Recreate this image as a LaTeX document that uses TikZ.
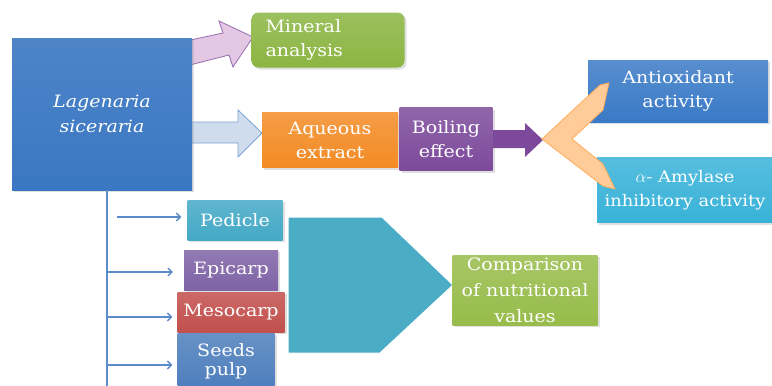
\documentclass[tikz,border=0pt]{standalone}
\usepackage{fontspec}
\setmainfont[FakeStretch=1.12]{DejaVu Serif}
\usetikzlibrary{arrows.meta,shadows}

\definecolor{lagblue}{HTML}{3A77C2}
\definecolor{minergreen}{HTML}{8BB542}
\definecolor{aquorange}{HTML}{F38B25}
\definecolor{boilpurple}{HTML}{7D4A9B}
\definecolor{antiblue}{HTML}{3A7AC6}
\definecolor{amycyan}{HTML}{38B2D8}
\definecolor{pedcyan}{HTML}{44A9C6}
\definecolor{epipurple}{HTML}{7F63A6}
\definecolor{mesored}{HTML}{C24F4C}
\definecolor{seedblue}{HTML}{4D7EBC}
\definecolor{pentcyan}{HTML}{4BACC6}
\definecolor{compgreen}{HTML}{97BC4A}
\definecolor{linkblue}{HTML}{5B8BC8}

\begin{document}
\begin{tikzpicture}[x=1pt,y=-1pt]
    % 定义样式
    \tikzstyle{box}=[rectangle, inner sep=2pt, align=center, text=white,
        font=\fontsize{17}{24}\selectfont,
        drop shadow={opacity=0.25, shadow xshift=2pt, shadow yshift=-2pt}]
    \tikzstyle{branch}=[draw=linkblue, line width=1.3pt,
        -{Straight Barb[length=4pt,width=8pt]}]
    \useasboundingbox (0,0) rectangle (772,386);
    \fill[white] (0,0) rectangle (772,386);

    % 块状箭头
    \filldraw[fill=violet!22, draw=boilpurple!80, line width=0.8pt]
        (186,41) -- (223,33) -- (219,21) -- (253,37) -- (233,67) -- (229,55) -- (186,66) -- cycle;
    \filldraw[fill=linkblue!30, draw=linkblue!80, line width=0.8pt]
        (186,122) -- (238,122) -- (238,110) -- (262,133) -- (238,157) -- (238,143) -- (186,143) -- cycle;

    % 主框
    \node[box, minimum width=180pt, minimum height=152pt,
        top color=lagblue!90!white, bottom color=lagblue,
        font=\fontsize{17}{25}\selectfont\itshape] (lag) at (102,114) {Lagenaria\\siceraria};

    % 上排
    \node[box, rounded corners=7pt, minimum width=153pt, minimum height=55pt,
        text width=125pt, align=left,
        top color=minergreen!85!white, bottom color=minergreen] (mineral) at (328,40) {Mineral\\analysis};
    \node[box, minimum width=136pt, minimum height=55pt,
        top color=aquorange!85!white, bottom color=aquorange] (aqueous) at (330,140) {Aqueous\\extract};
    \node[box, minimum width=93pt, minimum height=63pt,
        top color=boilpurple!85!white, bottom color=boilpurple] (boiling) at (446,139) {Boiling\\effect};
    \node[box, minimum width=180pt, minimum height=62pt,
        top color=antiblue!85!white, bottom color=antiblue] (antiox) at (678,91) {Antioxidant\\activity};
    \node[box, minimum width=176pt, minimum height=65pt,
        top color=amycyan!85!white, bottom color=amycyan,
        font=\fontsize{16}{24}\selectfont] (amylase) at (685,190) {$\alpha$- Amylase\\inhibitory activity};

    % 紫色箭头和橙色分叉
    \fill[boilpurple] (493,130) -- (525,130) -- (525,123) -- (543,140) -- (525,157) -- (525,148) -- (493,148) -- cycle;
    \filldraw[fill=orange!40, draw=orange!65, line width=0.8pt]
        (542,139) -- (600,85) -- (609,83) -- (603,110) -- (572,139) -- (603,164)
        -- (615,189) -- (603,186) -- cycle;

    % 下排部位
    \node[box, minimum width=95pt, minimum height=40pt,
        top color=pedcyan!85!white, bottom color=pedcyan] (pedicle) at (235,220) {Pedicle};
    \node[box, minimum width=94pt, minimum height=40pt,
        top color=epipurple!85!white, bottom color=epipurple] (epicarp) at (231,270) {Epicarp};
    \node[box, minimum width=107pt, minimum height=40pt,
        top color=mesored!85!white, bottom color=mesored] (mesocarp) at (231,312) {Mesocarp};
    \node[box, minimum width=97pt, minimum height=56pt,
        top color=seedblue!85!white, bottom color=seedblue,
        font=\fontsize{17}{19}\selectfont] (seeds) at (226,361) {Seeds\\pulp};

    % 大五边形箭头
    \filldraw[fill=pentcyan, draw=white, line width=1pt]
        (288,217) -- (382,217) -- (453,285) -- (380,353) -- (288,353) -- cycle;
    \node[box, minimum width=145pt, minimum height=70pt,
        top color=compgreen!85!white, bottom color=compgreen,
        font=\fontsize{17}{26}\selectfont] (compare) at (525,290) {Comparison\\of nutritional\\values};

    % 主干和分支
    \coordinate (tr0) at (107,190);
    \coordinate (tr1) at (117,217);
    \coordinate (tr2) at (107,272);
    \coordinate (tr3) at (107,317);
    \coordinate (tr4) at (107,365);
    \coordinate (trend) at (107,386);
    \draw[draw=linkblue, line width=1.3pt] (tr0) -- (trend);
    \draw[branch, shorten >=6pt] (tr1) -- (tr1 -| pedicle.west);
    \draw[branch, shorten >=11pt] (tr2) -- (tr2 -| epicarp.west);
    \draw[branch, shorten >=5pt] (tr3) -- (tr3 -| mesocarp.west);
    \draw[branch, shorten >=5pt] (tr4) -- (tr4 -| seeds.west);
\end{tikzpicture}
\end{document}
